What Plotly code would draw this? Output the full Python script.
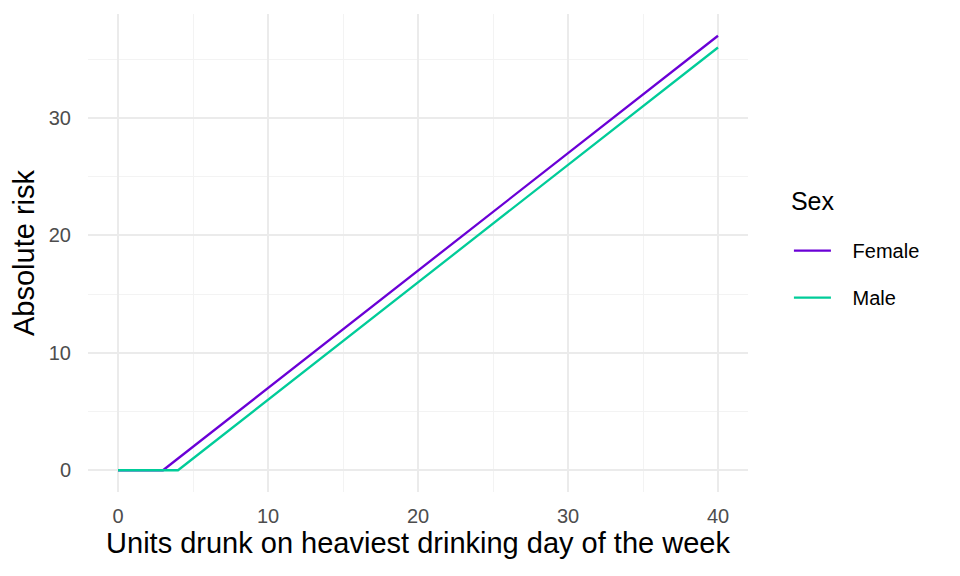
import plotly.graph_objects as go

# units drunk vs absolute risk, by sex
units = [0, 3, 4, 40]
female_risk = [0, 0, 1, 37]
male_risk = [0, 0, 0, 36]

x_ticks = [0, 10, 20, 30, 40]
y_ticks = [0, 10, 20, 30]

FONT = "Liberation Sans, Arial, sans-serif"
PAD = '\u00a0\u00a0\u00a0'  # push legend labels away from the keys

fig = go.Figure()
fig.add_trace(go.Scatter(x=units, y=female_risk, mode='lines', name=PAD + 'Female',
                         line=dict(color='#6A00D6', width=2.3), legendgroup='f'))
fig.add_trace(go.Scatter(x=units, y=male_risk, mode='lines', name=PAD + 'Male',
                         line=dict(color='#00CC99', width=2.3), legendgroup='m'))

# page body has an 8px margin, so panel offsets are shifted by that
fig.update_layout(
    width=960, height=576,
    margin=dict(l=80, r=220, t=6, b=92),
    paper_bgcolor='white', plot_bgcolor='white',
    font=dict(family=FONT, color='black'),
    legend=dict(
        title=dict(text="<span style='font-size:25px'>Sex</span><br>", font=dict(size=16)),
        font=dict(size=20),
        x=1.062, xanchor='left', y=0.633, yanchor='top',
        tracegroupgap=18, itemwidth=37,
        bgcolor='rgba(0,0,0,0)',
    ),
    xaxis=dict(
        range=[-2, 42], tickvals=x_ticks, showline=False, zeroline=False,
        gridcolor='#EBEBEB', gridwidth=1.6,
        minor=dict(dtick=5, tick0=0, showgrid=True, gridcolor='#F3F3F3', gridwidth=1),
        tickfont=dict(size=20, color='#4D4D4D'),
        ticks='outside', ticklen=6, tickcolor='rgba(0,0,0,0)',
        title=dict(text='Units drunk on heaviest drinking day of the week',
                   font=dict(size=29), standoff=4),
    ),
    yaxis=dict(
        range=[-1.85, 38.85], tickvals=y_ticks, showline=False, zeroline=False,
        gridcolor='#EBEBEB', gridwidth=1.6,
        minor=dict(dtick=5, tick0=0, showgrid=True, gridcolor='#F3F3F3', gridwidth=1),
        tickfont=dict(size=20, color='#4D4D4D'),
        ticks='outside', ticklen=12, tickcolor='rgba(0,0,0,0)',
        title=dict(text='Absolute risk', font=dict(size=29), standoff=8),
    ),
)

fig.write_html("out.html")
